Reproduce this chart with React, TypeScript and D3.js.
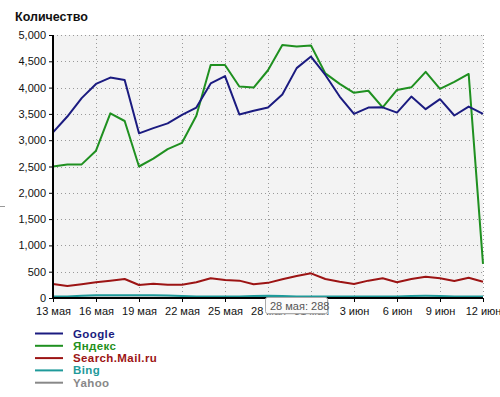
import React, { useEffect, useRef } from "react";
import * as d3 from "d3";

const dayLabels = [
  "13 мая", "14 мая", "15 мая", "16 мая", "17 мая", "18 мая", "19 мая", "20 мая",
  "21 мая", "22 мая", "23 мая", "24 мая", "25 мая", "26 мая", "27 мая", "28 мая",
  "29 мая", "30 мая", "31 мая", "1 июн", "2 июн", "3 июн", "4 июн", "5 июн",
  "6 июн", "7 июн", "8 июн", "9 июн", "10 июн", "11 июн", "12 июн",
];

const google = [
  3150, 3450, 3800, 4070, 4190, 4145, 3130, 3230, 3320, 3480, 3620, 4080, 4220, 3490, 3560, 3620,
  3870, 4370, 4590, 4240, 3830, 3500, 3620, 3625, 3525, 3830, 3590, 3780, 3470, 3640, 3500,
];
const yandex = [
  2500, 2540, 2540, 2800, 3510, 3365, 2500, 2650, 2830, 2950, 3465, 4430, 4430, 4020, 4000, 4330,
  4810, 4780, 4800, 4270, 4070, 3900, 3940, 3625, 3955, 4005, 4300, 3975, 4110, 4260, 650,
];
const mail = [
  266, 228, 260, 298, 330, 361, 247, 272, 253, 253, 298, 374, 342, 330, 260, 288,
  355, 418, 469, 361, 310, 266, 330, 374, 298, 361, 405, 374, 323, 386, 310,
];
const bing = [
  28, 30, 45, 50, 52, 52, 50, 50, 48, 40, 30, 28, 28, 30, 40, 45,
  40, 30, 30, 28, 30, 30, 30, 30, 30, 40, 42, 40, 30, 30, 30,
];
const yahoo = [
  3, 3, 3, 3, 3, 3, 3, 3, 3, 3, 3, 3, 3, 3, 3, 3,
  3, 3, 3, 3, 3, 3, 3, 3, 3, 3, 3, 3, 3, 3, 3,
];

const seriesNames = ["Google", "Яндекс", "Search.Mail.ru", "Bing", "Yahoo"];
const seriesColors = ["#1b1b80", "#1f9020", "#9c1414", "#1f9a9a", "#888888"];
const yTicks = [0, 500, 1000, 1500, 2000, 2500, 3000, 3500, 4000, 4500, 5000];

const margin = { top: 35, left: 53, right: 17, bottom: 99 };
const W = 500;
const H = 397;
const font = "Liberation Sans, Arial, sans-serif";

const App: React.FC = () => {
  const svgRef = useRef<SVGSVGElement>(null);

  useEffect(() => {
    const svg = d3.select(svgRef.current);
    svg.selectAll("*").remove();
    const width = W - margin.left - margin.right;
    const height = H - margin.top - margin.bottom;

    const x = d3.scaleLinear().domain([0, dayLabels.length - 1]).range([0, width]);
    const y = d3.scaleLinear().domain([0, 5000]).range([height, 0]);

    svg
      .append("text")
      .attr("x", 15)
      .attr("y", 21)
      .attr("font-family", font)
      .attr("font-weight", "bold")
      .attr("font-size", 12.5)
      .attr("fill", "#111")
      .text("Количество");

    svg
      .append("line")
      .attr("x1", 0)
      .attr("x2", 5)
      .attr("y1", 206.5)
      .attr("y2", 206.5)
      .attr("stroke", "#999");

    const chart = svg.append("g").attr("transform", `translate(${margin.left},${margin.top})`);

    chart.append("rect").attr("width", width).attr("height", height).attr("fill", "#f3f3f3");

    const tickIdx = dayLabels.map((_, i) => i).filter((i) => i % 3 === 0);

    // grid
    chart
      .append("g")
      .selectAll("line")
      .data(tickIdx.filter((i) => i > 0))
      .enter()
      .append("line")
      .attr("x1", (d) => Math.round(x(d)) + 0.5)
      .attr("x2", (d) => Math.round(x(d)) + 0.5)
      .attr("y1", 0)
      .attr("y2", height)
      .attr("stroke", "#999")
      .attr("stroke-dasharray", "1,3");
    chart
      .append("g")
      .selectAll("line")
      .data(yTicks.filter((d) => d > 0))
      .enter()
      .append("line")
      .attr("x1", 0)
      .attr("x2", width)
      .attr("y1", (d) => Math.round(y(d)) + 0.5)
      .attr("y2", (d) => Math.round(y(d)) + 0.5)
      .attr("stroke", "#999")
      .attr("stroke-dasharray", "1,3");

    const series = [google, yandex, mail, bing, yahoo];
    const line = d3
      .line<number>()
      .x((_, i) => x(i))
      .y((d) => y(d));
    series
      .slice()
      .reverse()
      .forEach((s, ri) => {
        const idx = series.length - 1 - ri;
        chart
          .append("path")
          .datum(s)
          .attr("d", line)
          .attr("fill", "none")
          .attr("stroke", seriesColors[idx])
          .attr("stroke-width", 2)
          .attr("stroke-linejoin", "round");
      });

    const yAxis = d3
      .axisLeft(y)
      .tickValues(yTicks)
      .tickSize(4)
      .tickFormat(d3.format(","));
    chart
      .append("g")
      .call(yAxis)
      .call((g) => g.select(".domain").attr("stroke", "#000").attr("stroke-width", 2).attr("d", `M0,0V${height}`))
      .call((g) => g.selectAll("line").attr("stroke", "#000"))
      .call((g) => g.selectAll("text").attr("fill", "#111").attr("font-size", 11).attr("font-family", font));

    const xAxis = d3
      .axisBottom(x)
      .tickValues(tickIdx)
      .tickSize(4)
      .tickFormat((d) => dayLabels[d as number]);
    chart
      .append("g")
      .attr("transform", `translate(0,${height})`)
      .call(xAxis)
      .call((g) => g.select(".domain").attr("stroke", "#000").attr("stroke-width", 2).attr("d", `M0,0H${width}`))
      .call((g) => g.selectAll("line").attr("stroke", "#000"))
      .call((g) =>
        g
          .selectAll("text")
          .attr("fill", "#111")
          .attr("font-size", 11)
          .attr("dy", "0.95em")
          .attr("font-family", font)
      );

    // tooltip (hover label over 28 May, as in the screenshot)
    const tip = svg.append("g").attr("transform", "translate(265,297)");
    tip
      .append("rect")
      .attr("x", 1.5)
      .attr("y", 1.5)
      .attr("width", 62)
      .attr("height", 16)
      .attr("rx", 2)
      .attr("fill", "#d0d0d0");
    tip
      .append("rect")
      .attr("x", 0.5)
      .attr("y", 0.5)
      .attr("width", 62)
      .attr("height", 16)
      .attr("rx", 2)
      .attr("fill", "#fbfbfb")
      .attr("stroke", "#aaa");
    tip
      .append("text")
      .attr("x", 5)
      .attr("y", 12.5)
      .attr("font-size", 11)
      .attr("font-family", font)
      .attr("fill", "#555")
      .text(`${dayLabels[15]}: ${mail[15]}`);

    // legend
    const legend = svg.append("g").attr("transform", "translate(35,333)");
    seriesNames.forEach((name, i) => {
      const g = legend.append("g").attr("transform", `translate(0,${i * 12.3})`);
      g.append("line")
        .attr("x1", 0)
        .attr("x2", 28)
        .attr("y1", 0.5)
        .attr("y2", 0.5)
        .attr("stroke", seriesColors[i])
        .attr("stroke-width", 2);
      g.append("text")
        .attr("x", 38)
        .attr("y", 4.5)
        .attr("font-size", 11.5)
        .attr("font-weight", "bold")
        .attr("letter-spacing", 0.4)
        .attr("font-family", font)
        .attr("fill", seriesColors[i])
        .text(name);
    });
  }, []);

  return (
    <svg
      ref={svgRef}
      width={W}
      height={H}
      style={{ position: "absolute", left: 0, top: 0, background: "#fff" }}
    />
  );
};

export default App;
